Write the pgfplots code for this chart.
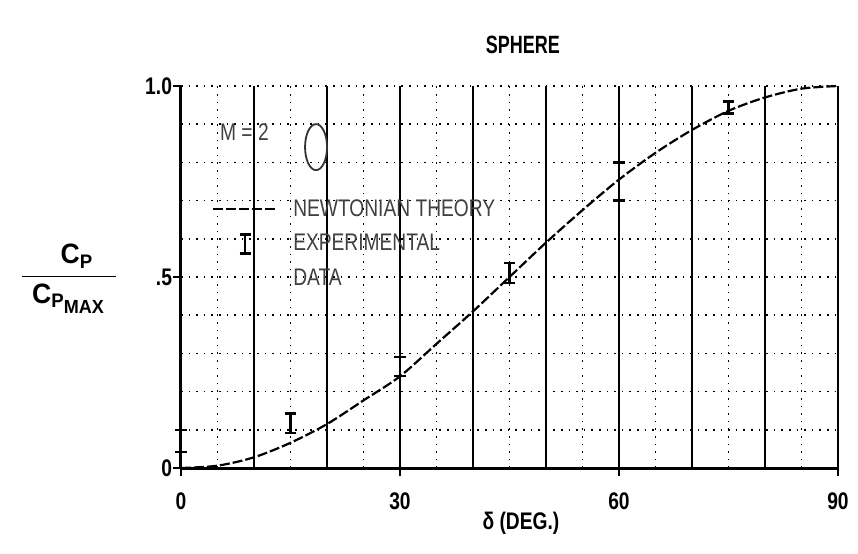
\documentclass[border=0pt]{standalone}
\usepackage{fontspec}
\setmainfont{Liberation Sans}[FakeStretch=0.8]
\usepackage{amsmath}
\usepackage{pgfplots}
\pgfplotsset{compat=1.18}

\tikzset{dotgrid/.style={black, line width=0.8pt, dash pattern=on 0.8pt off 3pt}}

\begin{document}
\begin{tikzpicture}
\begin{axis}[
    at={(0,0)}, anchor=south west, clip=false,
    scale only axis, width=328.5pt, height=191pt,
    xmin=0, xmax=90, ymin=0, ymax=1,
    axis x line=bottom, axis y line=left,
    axis line style={-, line width=1.5pt},
    tick align=outside, major tick length=4pt, minor tick length=0pt,
    tick style={line width=1.2pt, black},
    xtick={0,30,60,90},
    ytick={0,0.5,1}, yticklabels={0,.5,1.0},
    minor xtick={5,15,25,35,45,55,65,75,85},
    minor ytick={0.1,0.2,0.3,0.4,0.6,0.7,0.8,0.9},
    xmajorgrids, xminorgrids, yminorgrids,
    major grid style={black, line width=0.7pt},
    minor grid style={dotgrid},
    extra x ticks={10,20,40,50,70,80}, extra x tick labels={},
    extra x tick style={grid=major, major tick length=0pt},
    extra y ticks={0.5,1}, extra y tick labels={},
    extra y tick style={grid=major, major tick length=0pt, major grid style={dotgrid}},
    /pgf/number format/assume math mode=true,
    ticklabel style={font=\fontsize{12}{12}\bfseries},
    xticklabel style={yshift=-5pt},
    yticklabel style={xshift=3pt},
    legend style={draw=none, fill=none, at={(axis cs:4.2,0.678)}, anchor=north west,
        yshift=5pt, inner sep=0pt, row sep=7pt, column sep=7.5pt,
        font=\fontsize{12}{12}\selectfont, text=black!75,
        nodes={inner sep=0pt}},
    legend cell align=left,
]
\addplot[black, line width=1.1pt, dash pattern=on 5pt off 1.5pt, smooth,
    legend image code/.code={\draw[black, line width=1.1pt, dash pattern=on 5pt off 1.5pt] (0pt,0pt) -- (32pt,0pt);}]
  coordinates {(0,0) (5,0.006) (10,0.028) (15,0.066) (20,0.115) (25,0.177)
    (30,0.24) (35,0.325) (40,0.41) (45,0.5) (50,0.59) (55,0.675) (60,0.755)
    (65,0.825) (70,0.885) (75,0.935) (80,0.97) (85,0.993) (90,1.0)};
\addlegendentry{NEWTONIAN THEORY}
\addplot[draw=none, mark=none,
    legend image code/.code={\draw[black, line width=1.2pt] (16pt,-4.75pt) -- (16pt,4.75pt)
        (13.2pt,-4.75pt) -- (18.8pt,-4.75pt) (13.2pt,4.75pt) -- (18.8pt,4.75pt);},
    error bars/.cd, y dir=both, y explicit,
    error bar style={draw=black, line width=1.3pt, solid},
    error mark options={draw=black, line width=1.2pt, mark size=2.8pt, rotate=90}]
  table[x=x, y=y, y error=e] {
x   y       e
0   0.0705  0.0285
15  0.1175  0.0255
30  0.266   0.025
45  0.51    0.026
60  0.75    0.05
75  0.9435  0.0155
};
\addlegendentry{EXPERIMENTAL}
\addlegendimage{empty legend}
\addlegendentry{DATA}
\draw[black, line width=0.8pt] (rel axis cs:1,0) -- (rel axis cs:1,1);
\node[anchor=west, text=black!75, font=\fontsize{12}{12}\selectfont] at (axis cs:4.4,0.88) {M = 2};
\draw[black!80, line width=0.9pt] (axis cs:18.5,0.84) ellipse [x radius=5.5pt, y radius=11.5pt];
\node[font=\fontsize{12.5}{13}\bfseries\addfontfeature{FakeStretch=0.72}] at (rel axis cs:0.5205,1) [yshift=20.5pt] {SPHERE};
\node[font=\fontsize{12}{12}\bfseries] at (rel axis cs:0.5175,0) [yshift=-27.5pt] {δ (DEG.)};
\node[font=\fontsize{14}{15}\bfseries\addfontfeature{FakeStretch=0.95}] at (rel axis cs:0,0.495) [xshift=-56pt]
  {$\dfrac{\hspace{8pt}\text{C}_{\text{P}}}{\makebox[47pt]{\text{C}$_{\text{P}_{\text{\fontsize{9.5}{10}\selectfont MAX}}}$}}$};
\end{axis}
\pgfresetboundingbox
\path (-90.5pt,-42.5pt) rectangle (338.5pt,234pt);
\end{tikzpicture}
\end{document}
